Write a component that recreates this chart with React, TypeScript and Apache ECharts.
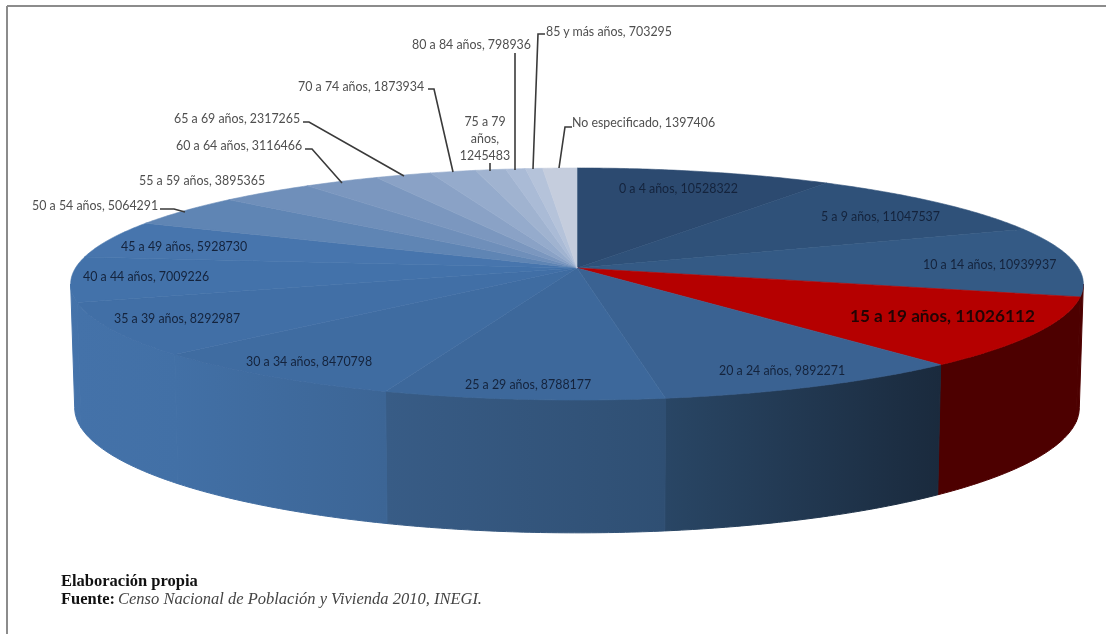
import React, { useEffect, useRef } from "react";
import * as echarts from "echarts";

const AGE_GROUPS = [
  "0 a 4 años", "5 a 9 años", "10 a 14 años", "15 a 19 años", "20 a 24 años",
  "25 a 29 años", "30 a 34 años", "35 a 39 años", "40 a 44 años", "45 a 49 años",
  "50 a 54 años", "55 a 59 años", "60 a 64 años", "65 a 69 años", "70 a 74 años",
  "75 a 79 años", "80 a 84 años", "85 y más años", "No especificado",
];
const POPULATION = [
  10528322, 11047537, 10939937, 11026112, 9892271, 8788177, 8470798, 8292987, 7009226, 5928730,
  5064291, 3895365, 3116466, 2317265, 1873934, 1245483, 798936, 703295, 1397406,
];

// Presentation tables, kept apart from the values above
const TOP_COLORS = [
  "#2c4a70", "#2f5179", "#345a85", "#b50000", "#3a6292", "#3d689b", "#3f6ca1", "#416fa6", "#4372aa", "#4775ad",
  "#5f85b4", "#6f8fba", "#7b97bf", "#8aa2c6", "#95abcc", "#a0b3d0", "#aabbd6", "#b5c3da", "#c5cddd",
];
const WALL_COLORS: Record<number, [string, string]> = {
  2: ["#4d0000", "#4d0000"],
  3: ["#4d0000", "#4d0000"],
  4: ["#294665", "#1a2a3d"],
  5: ["#385c86", "#2f4f73"],
  6: ["#4270a6", "#3c6595"],
  7: ["#4472a9", "#4270a6"],
  8: ["#4573aa", "#4472a9"],
};
// [x, y, anchor, colour family, size, weight] of each label
const LABEL_LAYOUT: [number, number, string, string, number, string][] = [
  [619, 188, "left", "in", 12.4, "normal"],
  [821, 216, "left", "in", 12.4, "normal"],
  [923, 264, "left", "in", 12.4, "normal"],
  [850, 315, "left", "in", 17.2, "bold"],
  [719, 370, "left", "in", 12.4, "normal"],
  [465, 384, "left", "in", 12.4, "normal"],
  [246, 361, "left", "in", 12.4, "normal"],
  [114, 318, "left", "in", 12.4, "normal"],
  [83, 276, "left", "in", 12.4, "normal"],
  [121, 246, "left", "in", 12.4, "normal"],
  [32, 205, "left", "out", 12.4, "normal"],
  [139, 180, "left", "out", 12.4, "normal"],
  [176, 145, "left", "out", 12.4, "normal"],
  [174, 118, "left", "out", 12.4, "normal"],
  [298, 86, "left", "out", 12.4, "normal"],
  [485, 138, "center", "out", 12.4, "normal"],
  [412, 44, "left", "out", 12.4, "normal"],
  [546, 31, "left", "out", 12.4, "normal"],
  [572, 122, "left", "out", 12.4, "normal"],
];
const LEADERS: Record<number, number[][]> = {
  10: [[160, 209], [174, 209], [185, 212]],
  12: [[305, 149], [312, 149], [342, 183]],
  13: [[303, 122], [309, 122], [404, 176]],
  14: [[428, 89], [434, 89], [453, 172]],
  15: [[490, 163], [490, 171]],
  16: [[515, 53], [515, 170]],
  17: [[545, 34], [538, 34], [533, 169]],
  18: [[572, 127], [565, 127], [559, 168]],
};

const FONT = "Lato";
const TOTAL = POPULATION.reduce((a, b) => a + b, 0);
const TWO_PI = Math.PI * 2;
const startOf = (i: number) => (POPULATION.slice(0, i).reduce((a, b) => a + b, 0) / TOTAL) * TWO_PI;
const endOf = (i: number) => (POPULATION.slice(0, i + 1).reduce((a, b) => a + b, 0) / TOTAL) * TWO_PI;

// Perspective projection of the disc; angle runs clockwise from the top
const CX = 577;
const PERSPECTIVE = 0.138;
const project = (a: number, apexY: number, rx: number, ry: number) => {
  const u = Math.sin(a);
  const v = -Math.cos(a);
  const d = 1 - PERSPECTIVE * v;
  return [CX + (rx * u) / d, apexY + (ry * v) / d];
};
const topPoint = (a: number) => project(a, 268, 501.5, 113.8);
const bottomPoint = (a: number) => project(a, 390.5, 497.5, 122.7);
const APEX = [CX, 268];
const WALL_FROM = Math.acos(-PERSPECTIVE);
const WALL_TO = TWO_PI - WALL_FROM;

const sample = (a0: number, a1: number, fn: (a: number) => number[]) => {
  const n = Math.max(2, Math.ceil((a1 - a0) / 0.01));
  const pts: number[][] = [];
  for (let k = 0; k <= n; k++) pts.push(fn(a0 + ((a1 - a0) * k) / n));
  return pts;
};

const renderWall = (params: any) => {
  const i = params.dataIndex;
  const a0 = Math.max(startOf(i), WALL_FROM);
  const a1 = Math.min(endOf(i), WALL_TO);
  if (a1 <= a0) return { type: "group", children: [] };
  const top = sample(a0, a1, topPoint);
  const bottom = sample(a0, a1, bottomPoint).reverse();
  const [c0, c1] = WALL_COLORS[i] ?? ["#4573aa", "#4573aa"];
  const gradient = () =>
    new echarts.graphic.LinearGradient(0, 0, 1, 0, [
      { offset: 0, color: c0 },
      { offset: 1, color: c1 },
    ]);
  return {
    type: "polygon",
    silent: true,
    shape: { points: top.concat(bottom) },
    style: { fill: gradient(), stroke: gradient(), lineWidth: 1 },
  };
};

const renderTop = (params: any) => {
  const i = params.dataIndex;
  const arc = sample(startOf(i), endOf(i), topPoint);
  return {
    type: "polygon",
    silent: true,
    shape: { points: [APEX, ...arc] },
    style: { fill: TOP_COLORS[i], stroke: TOP_COLORS[i], lineWidth: 0.6 },
  };
};

const labelText = (i: number) => {
  if (i === 15) return `75 a 79\naños,\n${POPULATION[i]}`;
  return `${AGE_GROUPS[i]}, ${POPULATION[i]}`;
};

const renderLabel = (params: any) => {
  const i = params.dataIndex;
  const [x, y, align, family, size, weight] = LABEL_LAYOUT[i];
  const children: any[] = [];
  if (LEADERS[i]) {
    children.push({
      type: "polyline",
      silent: true,
      shape: { points: LEADERS[i] },
      style: { stroke: "#3a3a3a", lineWidth: 1.6, fill: "none" },
    });
  }
  children.push({
    type: "text",
    silent: true,
    x,
    y,
    style: {
      text: labelText(i),
      fill: family === "out" ? "#4f4f4f" : i === 3 ? "#220404" : "#14233c",
      font: `${weight} ${size}px ${FONT}`,
      align,
      verticalAlign: "middle",
      lineHeight: 17,
    },
  });
  return { type: "group", children };
};

export default function App() {
  const ref = useRef<HTMLDivElement>(null);
  useEffect(() => {
    const chart = echarts.init(ref.current!, undefined, { renderer: "svg" });
    const data = POPULATION.map((v, i) => ({ name: AGE_GROUPS[i], value: [v] }));
    chart.setOption({
      animation: false,
      backgroundColor: "#ffffff",
      graphic: [
        { type: "line", silent: true, shape: { x1: 7, y1: 6, x2: 1106, y2: 6 }, style: { stroke: "#8c8c8c", lineWidth: 2 } },
        { type: "line", silent: true, shape: { x1: 7, y1: 6, x2: 7, y2: 634 }, style: { stroke: "#8c8c8c", lineWidth: 2 } },
        { type: "text", silent: true, x: 61, y: 580, style: { text: "Elaboración propia", fill: "#111111", font: "bold 16.5px 'Liberation Serif'", verticalAlign: "middle" } },
        { type: "text", silent: true, x: 61, y: 598, style: { text: "Fuente:", fill: "#111111", font: "bold 16.5px 'Liberation Serif'", verticalAlign: "middle" } },
        { type: "text", silent: true, x: 118, y: 598, style: { text: "Censo Nacional de Población y Vivienda 2010, INEGI.", fill: "#444444", font: "italic 16.5px 'Liberation Serif'", verticalAlign: "middle" } },
      ],
      series: [
        { type: "custom", coordinateSystem: "none", data, renderItem: renderWall, z: 1, silent: true },
        { type: "custom", coordinateSystem: "none", data, renderItem: renderTop, z: 2, silent: true },
        { type: "custom", coordinateSystem: "none", data, renderItem: renderLabel, z: 3, silent: true },
      ],
    });
    return () => chart.dispose();
  }, []);
  return (
    <div
      ref={ref}
      style={{ position: "fixed", left: 0, top: 0, width: 1106, height: 634, filter: "blur(0.5px)" }}
    />
  );
}
